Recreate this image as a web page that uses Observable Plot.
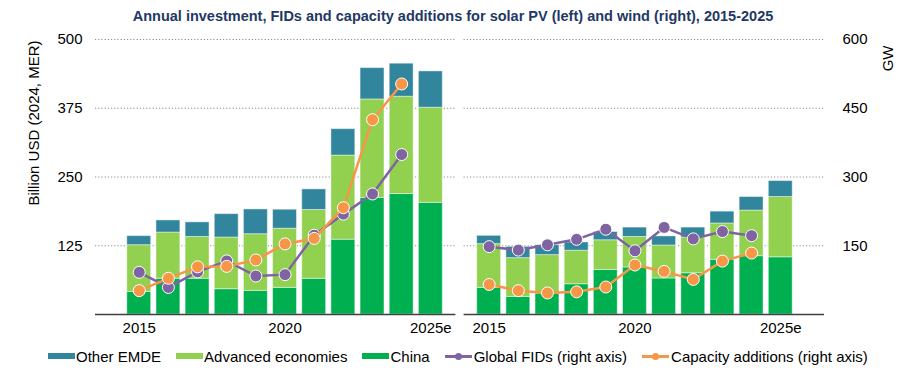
<!DOCTYPE html>
<html><head><meta charset="utf-8">
<script src="https://cdn.jsdelivr.net/npm/d3@7"></script>
<script src="https://cdn.jsdelivr.net/npm/@observablehq/plot@0.6"></script>
<style>
body{margin:0;background:#fff;font-family:"Liberation Sans",Arial,sans-serif;}
#wrap{width:906px;height:381px;position:relative;overflow:hidden;}
#title{position:absolute;top:0;left:0;width:906px;height:32px;line-height:32px;text-align:center;font-weight:bold;font-size:14.5px;color:#1f3864;z-index:1;}
#chart svg{display:block;}
#legend{position:absolute;top:340px;left:48px;height:32px;display:flex;align-items:center;font-size:15px;color:#000;white-space:nowrap;}
.item{display:flex;align-items:center;margin-right:15px;}
.sw{width:27px;height:6px;margin-right:1px;}
.ln{width:27px;height:10px;margin-right:2px;position:relative;}
.ln i{position:absolute;left:0;right:0;top:4px;height:2.5px;}
.ln b{position:absolute;left:10px;top:2px;width:7px;height:7px;border-radius:50%;}
</style></head>
<body><div id="wrap"><div id="chart"></div><div id="title">Annual investment, FIDs and capacity additions for solar PV (left) and wind (right), 2015-2025</div><div id="legend"></div></div>
<script>
const years = ["2015","2016","2017","2018","2019","2020","2021","2022","2023","2024","2025e"];
const tickYears = ["2015","2020","2025e"];
const regions = ["China","Advanced economies","Other EMDE"];
const regionColors = ["#00B050","#92D050","#31859C"];
const legendOrder = ["Other EMDE","Advanced economies","China"];

// Solar PV investment, billion USD (2024, MER)
const solarChina = [41, 65, 65, 46, 43, 48.5, 65, 136, 212, 219, 203];
const solarAdvanced = [85, 84, 76, 94, 103, 107.5, 125, 153, 179, 177, 173];
const solarOther = [16.5, 22, 26.5, 42.5, 45, 34.5, 37.5, 48, 57, 60, 66];
// Wind investment, billion USD (2024, MER)
const windChina = [48.5, 32, 38, 55, 81, 85.5, 65.5, 75, 99.5, 106, 104];
const windAdvanced = [79.5, 70.5, 70, 61, 54, 55.5, 60, 65, 66, 83, 109.6];
const windOther = [15, 20.5, 18, 15, 15, 17, 16.5, 18, 21.5, 24.5, 29];

// GW (right axis), 2015-2024
const solarFIDs = [92, 59, 93, 117, 84, 87, 173, 219, 263, 349];
const solarCapacity = [52, 79, 104, 105, 119, 154, 166, 233, 425, 503];
const windFIDs = [148, 140.5, 152, 164, 186, 139, 190, 165, 181, 172];
const windCapacity = [65.5, 52, 47, 49.5, 60, 108, 94, 76.5, 116.5, 134];

const usdTicks = [125, 250, 375, 500];
const gwTicks = [150, 300, 450, 600];
const gwPerUsd = 600 / 500;

const purple = "#8064A2", orange = "#F79646";

const panels = [
  {name: "Solar PV", offset: 0, x1: -1.5, x2: 10.86, inv: [solarChina, solarAdvanced, solarOther], fids: solarFIDs, cap: solarCapacity},
  {name: "Wind", offset: 12, x1: 11.14, x2: 23.5, inv: [windChina, windAdvanced, windOther], fids: windFIDs, cap: windCapacity}
];

const half = 0.41;
const bars = [];
for (const p of panels) {
  years.forEach((yr, i) => {
    let acc = 0;
    regions.forEach((r, k) => {
      const v = p.inv[k][i];
      bars.push({panel: p.name, year: yr, region: r, x1: p.offset + i - half, x2: p.offset + i + half, y1: acc, y2: acc + v});
      acc += v;
    });
  });
}
const lineRows = (p, arr, series) => arr.map((v, i) => ({panel: p.name, series, pos: p.offset + i, y: v / gwPerUsd}));
const fidRows = panels.map(p => lineRows(p, p.fids, "Global FIDs"));
const capRows = panels.map(p => lineRows(p, p.cap, "Capacity additions"));

const grid = panels.flatMap(p => usdTicks.map(t => ({x1: p.x1, x2: p.x2, y: t})));
const base = panels.map(p => ({x1: p.x1, x2: p.x2, y: 0}));

const tickPos = [];
const tickLab = {};
for (const p of panels) for (const t of tickYears) { const pos = p.offset + years.indexOf(t); tickPos.push(pos); tickLab[pos] = t; }

const marks = [
  Plot.ruleY(grid, {x1: "x1", x2: "x2", y: "y", stroke: "#8f8f8f", strokeWidth: 1, strokeDasharray: "1.2,2"}),
  Plot.rect(bars, {x1: "x1", x2: "x2", y1: "y1", y2: "y2", fill: d => regionColors[regions.indexOf(d.region)], stroke: "#ffffff", strokeOpacity: 0.45, strokeWidth: 1}),
  Plot.ruleY(base, {x1: "x1", x2: "x2", y: "y", stroke: "#404040", strokeWidth: 1.5}),
];
for (const rows of fidRows) {
  marks.push(Plot.line(rows, {x: "pos", y: "y", stroke: purple, strokeWidth: 2.5}));
  marks.push(Plot.dot(rows, {x: "pos", y: "y", r: 6, fill: purple, stroke: "#ffffff", strokeWidth: 1}));
}
for (const rows of capRows) {
  marks.push(Plot.line(rows, {x: "pos", y: "y", stroke: orange, strokeWidth: 2.5}));
  marks.push(Plot.dot(rows, {x: "pos", y: "y", r: 6, fill: orange, stroke: "#ffffff", strokeWidth: 1}));
}
marks.push(
  Plot.axisY({anchor: "left", ticks: usdTicks, tickSize: 0, tickPadding: 13, label: null, fontSize: 15}),
  Plot.axisY({anchor: "right", ticks: usdTicks, tickFormat: d => String(Math.round(d * gwPerUsd)), tickSize: 0, tickPadding: 18, label: null, fontSize: 15}),
  Plot.axisX({ticks: tickPos, tickFormat: d => tickLab[d], tickSize: 0, tickPadding: 8, label: null, fontSize: 15}),
  Plot.text(["Billion USD (2024, MER)"], {frameAnchor: "top-left", dx: -61, dy: 1, rotate: -90, textAnchor: "end", lineAnchor: "middle", fontSize: 15}),
  Plot.text(["GW"], {frameAnchor: "top-right", dx: 64, dy: 6, rotate: -90, textAnchor: "end", lineAnchor: "middle", fontSize: 15})
);

const chart = Plot.plot({
  width: 906, height: 340,
  marginLeft: 95, marginRight: 82, marginTop: 39, marginBottom: 26,
  x: {type: "linear", domain: [-1.5, 23.5]},
  y: {domain: [0, 500]},
  style: {fontFamily: "'Liberation Sans', Arial, sans-serif", fontSize: "15px", color: "#000", background: "transparent"},
  marks
});
document.getElementById("chart").appendChild(chart);

const legend = document.getElementById("legend");
for (const r of legendOrder) {
  const it = document.createElement("div"); it.className = "item";
  it.innerHTML = `<span class="sw" style="background:${regionColors[regions.indexOf(r)]}"></span><span>${r}</span>`;
  legend.appendChild(it);
}
for (const [lab, c] of [["Global FIDs (right axis)", purple], ["Capacity additions (right axis)", orange]]) {
  const it = document.createElement("div"); it.className = "item";
  it.innerHTML = `<span class="ln"><i style="background:${c}"></i><b style="background:${c}"></b></span><span>${lab}</span>`;
  legend.appendChild(it);
}
</script>
</body></html>
